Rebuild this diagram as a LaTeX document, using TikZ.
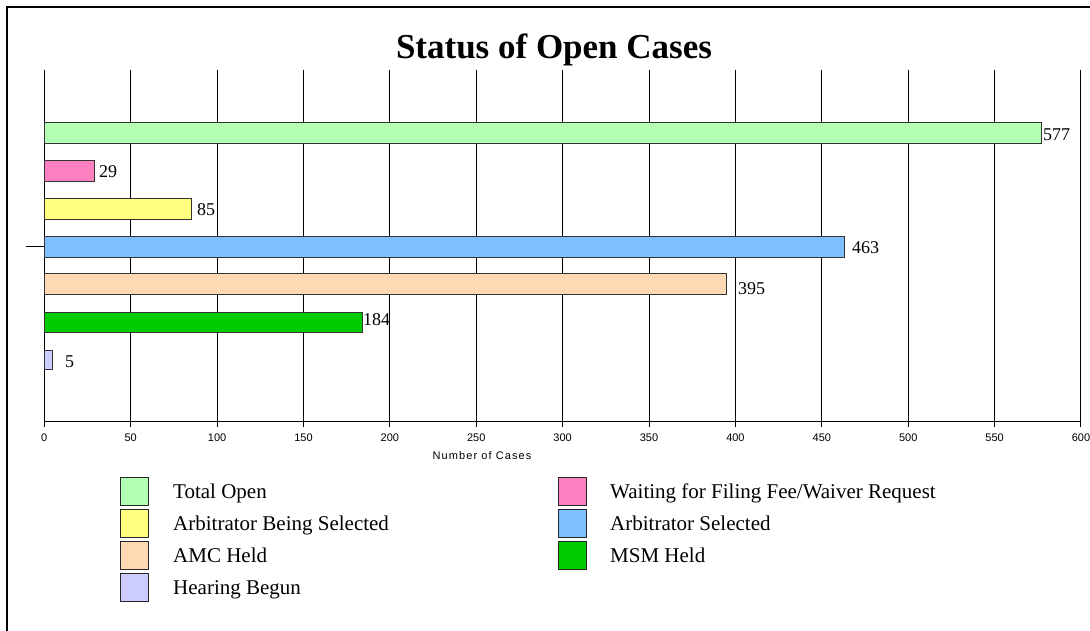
\documentclass[tikz,border=0pt]{standalone}
\usepackage{fontspec}
\setmainfont{Liberation Serif}
\setsansfont{Liberation Sans}
\definecolor{totalc}{RGB}{179,255,179}
\definecolor{waitc}{RGB}{255,128,192}
\definecolor{beingc}{RGB}{255,255,128}
\definecolor{selc}{RGB}{128,191,255}
\definecolor{amcc}{RGB}{255,217,179}
\definecolor{msmc}{RGB}{0,204,0}
\definecolor{hearc}{RGB}{204,204,255}
\tikzset{
  bar/.style={draw=black!80,line width=1pt},
  val/.style={anchor=west,inner sep=0pt,font=\fontsize{18}{18}\selectfont},
  ticklab/.style={inner sep=0pt,font=\sffamily\fontsize{11}{11}\selectfont},
  keybox/.style={draw=black!85,line width=1pt,minimum width=28pt,minimum height=28pt,inner sep=0pt},
  keytext/.style={anchor=base west,inner sep=0pt,font=\fontsize{21}{21}\selectfont}
}
\begin{document}
\begin{tikzpicture}[x=1pt,y=-1pt]
\useasboundingbox (0,0) rectangle (1090,631);
% frame
\draw[line width=2pt] (7,631)--(7,7)--(1090,7);
\node[anchor=base,inner sep=0pt] (title) at (554,59) {\fontsize{35}{35}\selectfont\bfseries Status of Open Cases};
% grid and axis
\foreach \v in {0,50,...,600}{
  \draw[line width=1pt] ({44.3+1.7278*\v},70)--({44.3+1.7278*\v},427);
  \node[ticklab] at ({44.3+1.7278*\v},438) {\v};
}
\draw[line width=1pt] (44.3,421.5)--(1081,421.5);
\draw[line width=1pt] (26,247)--(44.3,247);
\node[ticklab] (xlab) at (482,456) {\addfontfeature{LetterSpace=10}Number of Cases};
% bars
\draw[bar,fill=totalc] (44.3,122.5) rectangle ({44.3+1.7278*577},143.5);
\draw[bar,fill=waitc] (44.3,160.5) rectangle ({44.3+1.7278*29},181.5);
\draw[bar,fill=beingc] (44.3,198.5) rectangle ({44.3+1.7278*85},219.5);
\draw[bar,fill=selc] (44.3,236.5) rectangle ({44.3+1.7278*463},257.5);
\draw[bar,fill=amcc] (44.3,274) rectangle ({44.3+1.7278*395},294);
\draw[bar,fill=msmc] (44.3,312) rectangle ({44.3+1.7278*184},332);
\draw[bar,fill=hearc] (44.3,350) rectangle ({44.3+1.7278*5},369);
% values
\node[val] (v577) at (1043,135) {577};
\node[val] (v29) at (99,171.5) {29};
\node[val] (v85) at (197,210) {85};
\node[val] (v463) at (852,248) {463};
\node[val] (v395) at (738,289) {395};
\node[val] (v184) at (363,320) {184};
\node[val] (v5) at (65,361.5) {5};
% legend
\node[keybox,fill=totalc] (k1) at (134,491) {};
\node[keytext] (t1) at (173,498) {Total Open};
\node[keybox,fill=beingc] (k3) at (134,523) {};
\node[keytext] (t3) at (173,530) {Arbitrator Being Selected};
\node[keybox,fill=amcc] (k5) at (134,555) {};
\node[keytext] (t5) at (173,562) {AMC Held};
\node[keybox,fill=hearc] (k7) at (134,587) {};
\node[keytext] (t7) at (173,594) {Hearing Begun};
\node[keybox,fill=waitc] (k2) at (572.5,491) {};
\node[keytext] (t2) at (610,498) {Waiting for Filing Fee/Waiver Request};
\node[keybox,fill=selc] (k4) at (572.5,523) {};
\node[keytext] (t4) at (610,530) {Arbitrator Selected};
\node[keybox,fill=msmc] (k6) at (572.5,555) {};
\node[keytext] (t6) at (610,562) {MSM Held};
\end{tikzpicture}
\end{document}
